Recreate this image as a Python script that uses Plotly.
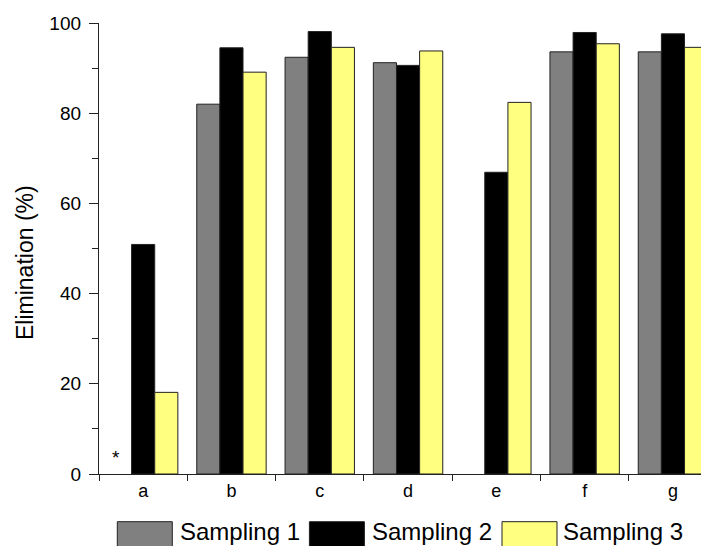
import plotly.graph_objects as go

categories = ["a", "b", "c", "d", "e", "f", "g"]
sampling1 = [None, 82.0, 92.4, 91.2, None, 93.6, 93.6]
sampling2 = [50.9, 94.5, 98.1, 90.6, 66.9, 97.9, 97.6]
sampling3 = [18.1, 89.1, 94.6, 93.8, 82.4, 95.4, 94.6]
series_names = ["Sampling 1", "Sampling 2", "Sampling 3"]
series_colors = ["#808080", "#000000", "#FFFF80"]
y_ticks = [0, 20, 40, 60, 80, 100]

FONT = "Arial, Liberation Sans, sans-serif"
OFF = 8  # page body margin
W, H = 701, 538
L, R, T, B = 91, 0, 15, 72
pw, ph = W - L - R, H - T - B
CAT_W = 88.3  # pixel width of one category in the reference
x_end = -0.5 + pw / CAT_W

def px_x(page_px):
    return (page_px - OFF - L) / pw

def px_y(page_px):
    return (H - B - (page_px - OFF)) / ph

fig = go.Figure()
for name, vals, col in zip(series_names, [sampling1, sampling2, sampling3], series_colors):
    fig.add_trace(go.Bar(
        x=categories, y=vals, name=name,
        marker=dict(color=col, line=dict(color="#222222", width=1)),
        showlegend=False,
    ))

fig.update_layout(
    width=W, height=H,
    margin=dict(l=L, r=R, t=T, b=B, pad=0),
    paper_bgcolor="white", plot_bgcolor="white",
    barmode="group", bargap=0.214, bargroupgap=0,
    font=dict(family=FONT, color="black"),
)
fig.update_xaxes(
    type="category", range=[-0.5, x_end],
    tickson="boundaries", ticks="outside", ticklen=6, tickwidth=1.3, tickcolor="#222",
    showline=True, linecolor="#222", linewidth=1.3,
    tickfont=dict(size=18, family=FONT, color="black"),
    showgrid=False, zeroline=False,
)
fig.update_yaxes(
    range=[0, 100], tickvals=y_ticks,
    ticks="outside", ticklen=9, tickwidth=1.3, tickcolor="#222",
    minor=dict(dtick=10, ticks="outside", ticklen=6, tickwidth=1.3, tickcolor="#222", showgrid=False),
    showline=True, linecolor="#222", linewidth=1.3,
    tickfont=dict(size=19, family=FONT, color="black"),
    ticklabelstandoff=4,
    showgrid=False, zeroline=False,
)

# y axis title
fig.add_annotation(
    text="Elimination (%)", xref="paper", yref="paper",
    x=px_x(25), y=px_y(263), xanchor="center", yanchor="middle",
    textangle=-90, showarrow=False, font=dict(size=23, family=FONT, color="black"),
)

# asterisk for missing Sampling 1 value of category a
fig.add_annotation(
    text="*", x=categories[0], y=0, xref="x", yref="y",
    xshift=-27, yshift=4, yanchor="bottom", showarrow=False,
    font=dict(size=19, family=FONT, color="black"),
)

# custom legend
box_x = [117.3, 309.4, 502.0]
text_x = [180.0, 371.5, 563.0]
for bx, tx, name, col in zip(box_x, text_x, series_names, series_colors):
    fig.add_shape(
        type="rect", xref="paper", yref="paper",
        x0=px_x(bx), x1=px_x(bx + 55), y0=px_y(521.7), y1=px_y(580),
        fillcolor=col, line=dict(color="#222222", width=1),
    )
    fig.add_annotation(
        text=name, xref="paper", yref="paper",
        x=px_x(tx - 2), y=px_y(531), xanchor="left", yanchor="middle",
        showarrow=False, font=dict(size=24, family=FONT, color="black"),
    )

fig.write_html("out.html")
